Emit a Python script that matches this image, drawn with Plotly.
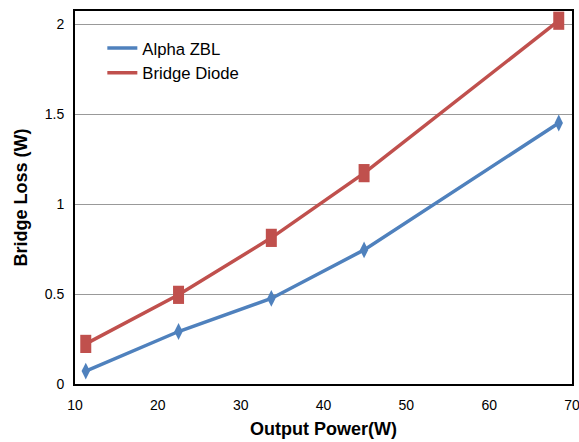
import plotly.graph_objects as go

output_power = [11.3, 22.5, 33.7, 44.9, 68.4]
alpha_zbl = [0.072, 0.292, 0.476, 0.746, 1.452]
bridge_diode = [0.223, 0.496, 0.813, 1.173, 2.021]

x_ticks = [10, 20, 30, 40, 50, 60, 70]
y_ticks = [0, 0.5, 1, 1.5, 2]
y_tick_labels = ["0", "0.5", "1", "1.5", "2"]

BLUE = "#4F81BD"
RED = "#C0504D"

fig = go.Figure()
fig.add_trace(go.Scatter(x=output_power, y=alpha_zbl, mode="lines", name="Alpha ZBL",
                         line=dict(color=BLUE, width=3.5)))
fig.add_trace(go.Scatter(x=output_power, y=bridge_diode, mode="lines", name="Bridge Diode",
                         line=dict(color=RED, width=3.5)))
fig.add_trace(go.Scatter(x=output_power, y=alpha_zbl, mode="markers", showlegend=False,
                         marker=dict(symbol="diamond-tall", size=12, color=BLUE, line=dict(width=0))))
fig.add_trace(go.Scatter(x=output_power, y=bridge_diode, mode="markers", showlegend=False,
                         marker=dict(symbol="line-ns", size=13, color=RED,
                                     line=dict(width=11, color=RED))))

fig.update_layout(
    width=579, height=442,
    margin=dict(l=75, r=7, t=11, b=58, autoexpand=False),
    paper_bgcolor="white", plot_bgcolor="white",
    font=dict(family="Liberation Sans, Arial, sans-serif", color="black", size=14),
    legend=dict(x=0.055, y=0.947, xanchor="left", yanchor="top",
                bgcolor="rgba(0,0,0,0)", font=dict(size=16.7), tracegroupgap=0),
)
fig.update_xaxes(range=[10, 70], tickvals=x_ticks, showgrid=False, zeroline=False,
                 showline=True, linecolor="black", linewidth=2, mirror=True,
                 ticks="", ticklabelstandoff=7, automargin=False, ticklabeloverflow="allow",
                 title=dict(text="<b>Output Power(W)</b>", font=dict(size=18), standoff=11))
fig.update_yaxes(range=[0, 2.075], tickvals=y_ticks, ticktext=y_tick_labels,
                 showgrid=True, gridcolor="#999999", gridwidth=1.3, zeroline=False,
                 showline=True, linecolor="black", linewidth=2, mirror=True,
                 ticks="", ticklabelstandoff=6, automargin=False,
                 title=dict(text="<b>Bridge Loss (W)</b>", font=dict(size=18), standoff=12))

fig.write_html("out.html", config={"displayModeBar": False},
               post_script="document.body.style.margin='0';")
